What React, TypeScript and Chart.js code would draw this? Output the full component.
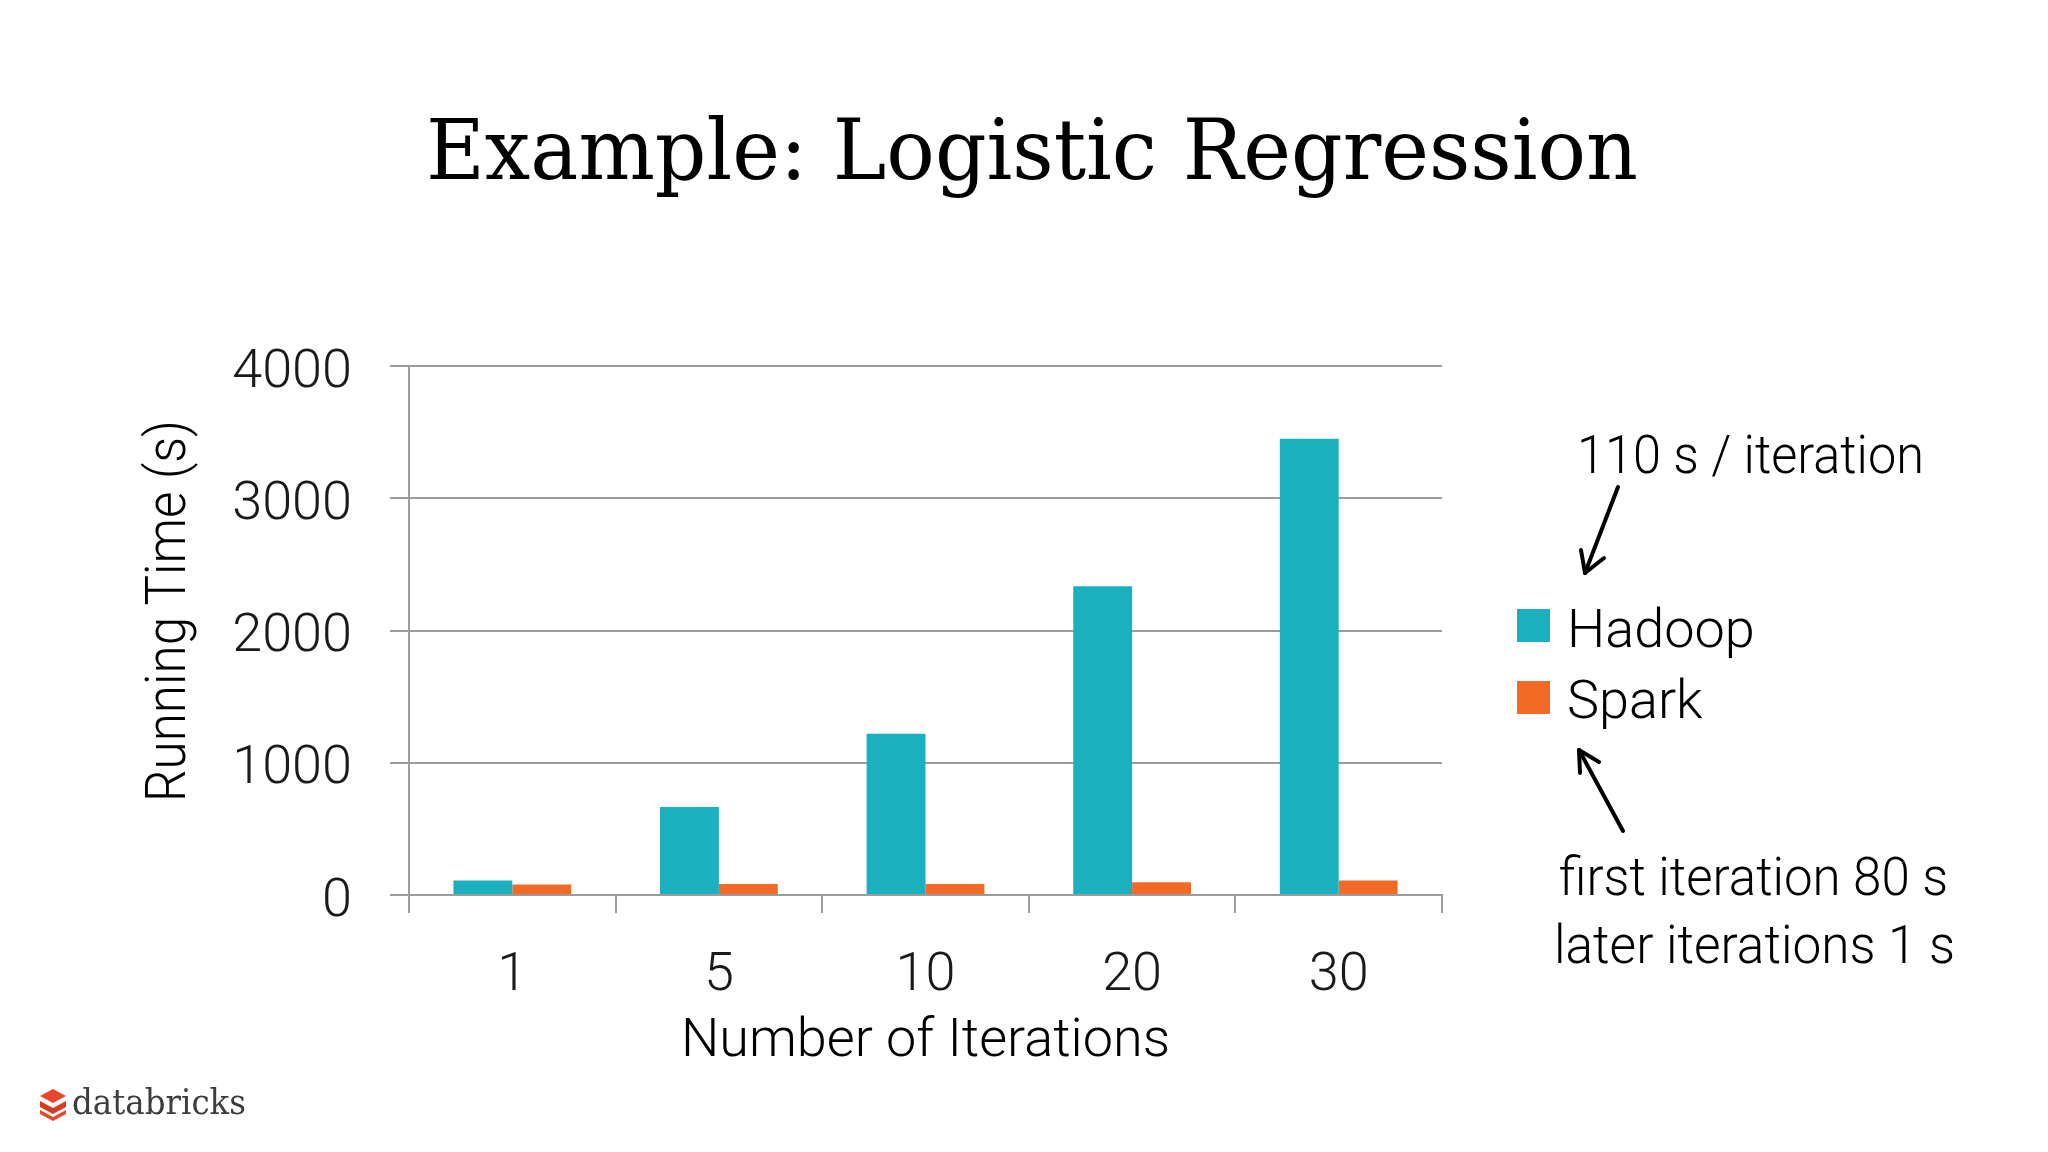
import React, { useEffect, useRef } from "react";
import { Chart, registerables } from "chart.js";

Chart.register(...registerables);

// ---- data ----
const categories = ["1", "5", "10", "20", "30"];
const seriesNames = ["Hadoop", "Spark"];
const hadoopValues = [110, 665, 1220, 2335, 3450];
const sparkValues = [80, 84, 84, 96, 110];
const seriesColors = ["#1BB0BE", "#F26A25"];
const yMin = 0;
const yMax = 4000;
const yStep = 1000;

const titleText = "Example: Logistic Regression";
const xTitle = "Number of Iterations";
const yTitle = "Running Time (s)";
const noteTop = "110 s / iteration";
const noteBottom1 = "first iteration 80 s";
const noteBottom2 = "later iterations 1 s";

const FONT = "Roboto";
const GRID = "#9c9c9c";

export default function App() {
  const ref = useRef<HTMLCanvasElement | null>(null);

  useEffect(() => {
    document.body.style.margin = "0";
    const canvas = ref.current;
    if (!canvas) return;
    const font = { family: FONT, size: 54, weight: "300" as any };
    const chart = new Chart(canvas, {
      type: "bar",
      data: {
        labels: categories,
        datasets: [
          { label: seriesNames[0], data: hadoopValues, backgroundColor: seriesColors[0] },
          { label: seriesNames[1], data: sparkValues, backgroundColor: seriesColors[1] },
        ],
      },
      options: {
        animation: false,
        responsive: false,
        maintainAspectRatio: false,
        layout: { padding: { left: 134, top: 366, right: 606, bottom: 77 } },
        plugins: { legend: { display: false }, tooltip: { enabled: false } },
        datasets: { bar: { categoryPercentage: 0.57, barPercentage: 1.0 } },
        scales: {
          x: {
            grid: {
              drawOnChartArea: false,
              drawTicks: true,
              tickLength: 18,
              color: GRID,
              lineWidth: 2,
              offset: true,
            },
            border: { color: GRID, width: 2 },
            ticks: { font, color: "#1a1a1a", padding: 31 },
            title: { display: true, text: xTitle, font, color: "#000", padding: 0 },
            afterFit: (s: any) => {
              s.height = 180;
            },
          },
          y: {
            min: yMin,
            max: yMax,
            ticks: {
              stepSize: yStep,
              font,
              color: "#1a1a1a",
              padding: 38,
              labelOffset: 7,
              callback: (v: any) => String(v),
            },
            grid: { color: GRID, lineWidth: 2, tickLength: 19 },
            border: { color: GRID, width: 2 },
            title: { display: false, text: yTitle },
            afterFit: (s: any) => {
              s.width = 275;
            },
          },
        },
      },
    });
    return () => chart.destroy();
  }, []);

  const legendSquareTops = [609, 681];
  const legendBaselines = [647, 718];

  return (
    <div
      style={{
        position: "relative",
        width: 2048,
        height: 1152,
        background: "#ffffff",
        overflow: "hidden",
      }}
    >
      <canvas
        ref={ref}
        width={2048}
        height={1152}
        style={{ position: "absolute", left: 0, top: 0, width: 2048, height: 1152 }}
      />
      <svg
        width={2048}
        height={1152}
        style={{ position: "absolute", left: 0, top: 0 }}
        xmlns="http://www.w3.org/2000/svg"
      >
        <text
          x={1032}
          y={179}
          textAnchor="middle"
          fontFamily="'DejaVu Serif'"
          fontSize={84}
          fill="#000"
          textLength={1212}
          lengthAdjust="spacingAndGlyphs"
        >
          {titleText}
        </text>

        <text
          transform="translate(185,611) rotate(-90)"
          x={0}
          y={0}
          textAnchor="middle"
          fontFamily={FONT}
          fontWeight={300}
          fontSize={56}
          fill="#000"
          textLength={382}
          lengthAdjust="spacingAndGlyphs"
        >
          {yTitle}
        </text>

        {seriesNames.map((name, i) => (
          <g key={name}>
            <rect x={1517} y={legendSquareTops[i]} width={33} height={33} fill={seriesColors[i]} />
            <text
              x={1567}
              y={legendBaselines[i]}
              fontFamily={FONT}
              fontWeight={300}
              fontSize={54}
              fill="#000"
            >
              {name}
            </text>
          </g>
        ))}

        <text x={1577} y={473} fontFamily={FONT} fontWeight={300} fontSize={54} fill="#000" textLength={347} lengthAdjust="spacingAndGlyphs">
          {noteTop}
        </text>
        <text x={1559} y={895} fontFamily={FONT} fontWeight={300} fontSize={54} fill="#000" textLength={389} lengthAdjust="spacingAndGlyphs">
          {noteBottom1}
        </text>
        <text x={1554} y={963} fontFamily={FONT} fontWeight={300} fontSize={54} fill="#000" textLength={401} lengthAdjust="spacingAndGlyphs">
          {noteBottom2}
        </text>

        <g stroke="#000" strokeWidth={4} fill="none" strokeLinecap="round" strokeLinejoin="round">
          <line x1={1618} y1={487} x2={1585} y2={573} />
          <polyline points="1581,550 1585,573 1604,558" />
          <line x1={1623} y1={831} x2={1579} y2={750} />
          <polyline points="1580,773 1579,750 1599,762" />
        </g>

        <g>
          <polygon points="40,1096 53,1089 66,1096 53,1103" fill="#E8472B" />
          <polygon points="40,1101 53,1108 66,1101 66,1107 53,1114 40,1107" fill="#D93A22" />
          <polygon points="40,1110 53,1117 66,1110 66,1114 53,1121 40,1114" fill="#E8472B" />
        </g>
        <text
          x={72}
          y={1114}
          fontFamily="'DejaVu Serif'"
          fontSize={36}
          fill="#3d3d3d"
          textLength={174}
          lengthAdjust="spacingAndGlyphs"
        >
          databricks
        </text>
      </svg>
    </div>
  );
}
